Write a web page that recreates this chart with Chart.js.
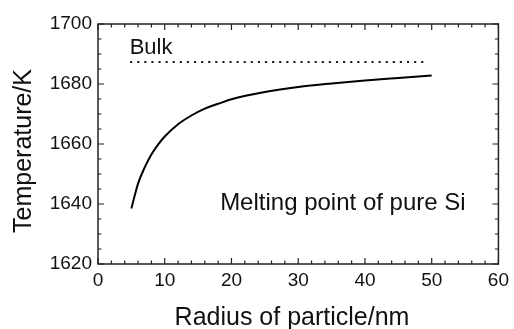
<!DOCTYPE html>
<html>
<head>
<meta charset="utf-8">
<script src="https://cdn.jsdelivr.net/npm/chart.js@4/dist/chart.umd.min.js"></script>
<style>
html,body{margin:0;padding:0;background:#fff;}
#wrap{width:514px;height:329px;position:relative;}
</style>
</head>
<body>
<div id="wrap"><canvas id="c" width="514" height="329"></canvas></div>
<script>
// Data
const radius = [5, 6, 7, 8, 9, 10, 12, 14, 16, 18, 20, 25, 30, 35, 40, 45, 50];
const meltingPoint = [1638.5, 1646.8, 1652.2, 1656.5, 1659.8, 1662.5, 1666.6, 1669.5, 1671.8, 1673.4, 1674.9, 1677.3, 1679, 1680.2, 1681.2, 1682, 1682.8];
const bulkRadius = [4.8, 49.2];
const bulkTemp = [1687.3, 1687.3];
const xTicks = [0, 10, 20, 30, 40, 50, 60];
const yTicks = [1620, 1640, 1660, 1680, 1700];
const xTitle = "Radius of particle/nm";
const yTitle = "Temperature/K";
const bulkLabel = "Bulk";
const noteLabel = "Melting point of pure Si";

const FONT = "'Liberation Sans', Arial, Helvetica, sans-serif";
const INK = "#111";

const framePlugin = {
  id: 'frame',
  afterDraw(chart) {
    const {ctx, chartArea: a, scales: {x, y}} = chart;
    ctx.save();
    ctx.strokeStyle = "#222";
    ctx.lineWidth = 1.5;
    ctx.strokeRect(a.left, a.top, a.right - a.left, a.bottom - a.top);
    ctx.lineWidth = 1.2;
    ctx.beginPath();
    for (let v = x.min; v <= x.max + 1e-9; v += 2) {
      const px = x.getPixelForValue(v);
      const len = (Math.abs(v % 10) < 1e-9) ? 6 : 3.5;
      ctx.moveTo(px, a.bottom); ctx.lineTo(px, a.bottom - len);
      ctx.moveTo(px, a.top); ctx.lineTo(px, a.top + len);
    }
    for (let v = y.min; v <= y.max + 1e-9; v += 5) {
      const py = y.getPixelForValue(v);
      const len = (Math.abs((v - 1620) % 20) < 1e-9) ? 6 : 3.5;
      ctx.moveTo(a.left, py); ctx.lineTo(a.left + len, py);
      ctx.moveTo(a.right, py); ctx.lineTo(a.right - len, py);
    }
    ctx.stroke();

    ctx.fillStyle = INK;
    ctx.textAlign = 'left';
    ctx.textBaseline = 'alphabetic';
    ctx.font = "22px " + FONT;
    ctx.fillText(bulkLabel, x.getPixelForValue(4.75), y.getPixelForValue(1690));
    ctx.font = "24px " + FONT;
    ctx.fillText(noteLabel, x.getPixelForValue(18.3), y.getPixelForValue(1638));

    ctx.font = "25px " + FONT;
    ctx.textAlign = 'center';
    ctx.fillText(xTitle, 292, 325);
    ctx.save();
    ctx.translate(31, 151);
    ctx.rotate(-Math.PI / 2);
    ctx.fillText(yTitle, 0, 0);
    ctx.restore();
    ctx.restore();
  }
};

new Chart(document.getElementById('c'), {
  type: 'line',
  data: {
    datasets: [
      {
        data: radius.map((r, i) => ({x: r, y: meltingPoint[i]})),
        borderColor: '#000',
        borderWidth: 2,
        pointRadius: 0,
        cubicInterpolationMode: 'monotone',
        fill: false
      },
      {
        data: bulkRadius.map((r, i) => ({x: r, y: bulkTemp[i]})),
        borderColor: '#222',
        borderWidth: 2,
        borderDash: [2.2, 4.9],
        borderCapStyle: 'butt',
        pointRadius: 0,
        fill: false
      }
    ]
  },
  options: {
    responsive: false,
    animation: false,
    devicePixelRatio: 1,
    layout: {padding: {left: 0, right: 13, top: 24, bottom: 0}},
    plugins: {legend: {display: false}, tooltip: {enabled: false}},
    scales: {
      x: {
        type: 'linear',
        min: 0, max: 60,
        afterBuildTicks(s) { s.ticks = xTicks.map(v => ({value: v})); },
        afterFit(s) { s.height = 65; },
        grid: {display: false, drawTicks: false},
        border: {display: false},
        ticks: {padding: 5, color: INK, font: {size: 19, family: FONT}, maxRotation: 0,
                callback: v => String(v)}
      },
      y: {
        type: 'linear',
        min: 1620, max: 1700,
        afterBuildTicks(s) { s.ticks = yTicks.map(v => ({value: v})); },
        afterFit(s) { s.width = 98; },
        grid: {display: false, drawTicks: false},
        border: {display: false},
        ticks: {padding: 6, color: INK, font: {size: 19, family: FONT},
                callback: v => String(v)}
      }
    }
  },
  plugins: [framePlugin]
});
</script>
</body>
</html>
